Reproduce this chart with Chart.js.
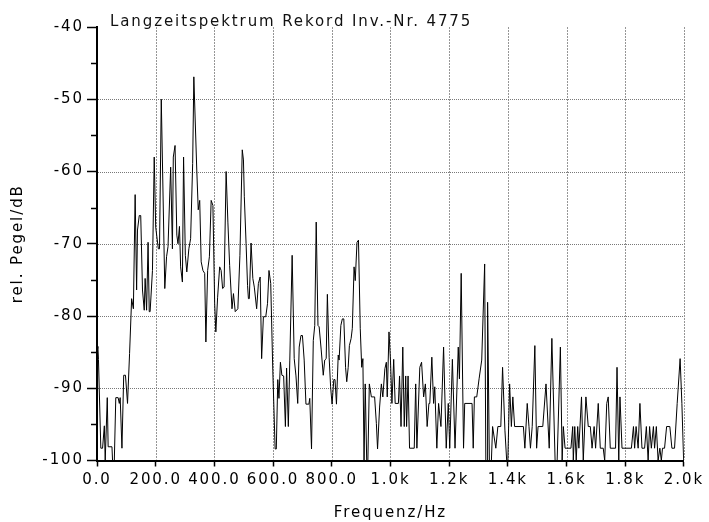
<!DOCTYPE html>
<html>
<head>
<meta charset="utf-8">
<script src="https://cdn.jsdelivr.net/npm/chart.js@4"></script>
<style>
html,body{margin:0;padding:0;background:#fff;}
#wrap{width:709px;height:522px;}
</style>
</head>
<body>
<div id="wrap"><canvas id="c" width="709" height="522"></canvas></div>
<script>
const chartTitle = 'Langzeitspektrum Rekord Inv.-Nr. 4775';
const xAxisTitle = 'Frequenz/Hz';
const yAxisTitle = 'rel. Pegel/dB';
const xTickLabels = ['0.0','200.0','400.0','600.0','800.0','1.0k','1.2k','1.4k','1.6k','1.8k','2.0k'];

const freqHz = [0,3,5,13,19,25,28,35,38,51,53,59,64,72,76,79,85,91,97,104,111,118,124,130,135,138,144,149,155,161,164,169,174,178,181,189,195,200,209,213,219,231,237,242,251,257,260,266,272,276,281,285,291,295,301,306,313,319,326,330,340,345,350,355,361,367,371,377,383,389,395,401,405,411,418,423,428,433,440,446,452,460,465,471,480,487,495,
499,502,508,513,516,519,525,531,536,544,550,556,561,567,575,581,586,592,599,607,611,616,620,625,630,636,642,646,652,657,665,672,678,684,689,695,700,706,712,722,725,731,737,742,747,753,757,764,771,776,781,785,791,796,801,807,811,816,822,825,831,836,841,847,851,856,860,866,870,876,880,886,891,897,902,906,910,914,919,923,928,935,946,952,956,963,969,974,981,986,989,995,1000,
1005,1011,1016,1027,1031,1036,1042,1047,1052,1055,1060,1065,1081,1086,1090,1100,1106,1113,1119,1125,1131,1134,1141,1147,1151,1158,1164,1172,1181,1190,1197,1202,1211,1220,1231,1235,1241,1249,1253,1278,1282,1286,1294,1302,1311,1321,1325,1329,1331,1337,1344,1348,1359,1366,1376,1382,1390,1396,1400,1406,1412,1417,1423,1453,1458,1466,1472,1477,1483,1492,1498,1503,
1519,1530,1541,1550,1561,1568,1579,1585,1589,1595,1615,1621,1623,1628,1633,1638,1642,1651,1657,1666,1674,1681,1687,1694,1699,1708,1715,1725,1730,1737,1742,1749,1767,1772,1778,1782,1789,1821,1828,1832,1837,1844,1850,1857,1866,1872,1878,1883,1889,1896,1900,1906,1912,1918,1923,1927,1934,1941,1952,1959,1968,1977,1987,1993,1999];

const levelDb = [-84.5,-84.2,-86,-98.3,-98.3,-95.2,-100,-91.3,-98.1,-98.1,-100,-100,-91.3,-91.3,-92.1,-91.3,-98.3,-88.2,-88.2,-92.1,-85.2,-77.6,-79,-63.2,-76.4,-68.1,-66.1,-66.1,-76.4,-79.2,-74.8,-79.2,-69.8,-79.4,-79.4,-73.7,-58,-67.7,-70.7,-70.7,-50,-76.2,-71.8,-70.4,-59.4,-70.7,-58,-56.4,-68.8,-70,-67.6,-73.2,-75.3,-58,-71.6,-73.9,-70.7,-69.3,-58.9,-46.9,-59.8,-65.3,-64,-72.5,-73.7,-74.1,-83.6,-73.7,-71.8,-64,-64.7,-78.3,-82.2,-77.4,-73.2,-73.7,-76.2,-76,-60,-67,-73,-79,-76.9,-79.4,-79,-71.6,-57,
-58.4,-63.5,-70,-75.8,-77.6,-77.6,-69.9,-74.8,-76,-79,-75.5,-74.6,-85.9,-80.1,-80.1,-78.3,-73.7,-75.5,-87.5,-98.4,-98.4,-88.8,-91.4,-86.4,-88.2,-88.3,-95.3,-87.2,-95.3,-86.1,-71.6,-85.9,-88.3,-92.1,-84.3,-82.7,-82.7,-86.1,-92.2,-92.2,-91.4,-98.4,-83.4,-81.3,-67,-81.3,-81.5,-84.7,-88.2,-86.1,-85.9,-77,-85.7,-89.8,-92.2,-88.8,-88.8,-92.2,-85.4,-86.1,-81.3,-80.4,-80.4,-87.1,-89.1,-87.1,-84.1,-83.1,-81.7,-73.2,-75.1,-69.8,-69.5,-81.7,-87.1,-85.9,-100,-89.4,-100,-100,-89.4,-91.2,-91.2,-94.9,-98.4,-92.6,-89.4,-91.2,-87.3,-86.4,-91.2,-82.2,-86.1,
-92.1,-86,-92.1,-92.1,-88.3,-95.3,-84.3,-95.3,-88.3,-95.3,-88.3,-98.3,-98.3,-89.4,-98.3,-87.1,-86.4,-91.2,-89.4,-95.3,-92.1,-92.1,-85.7,-92.1,-89.8,-98.3,-92.1,-95.3,-84.3,-98.3,-92.1,-98.3,-86,-98.3,-84.3,-88.7,-74.1,-98.3,-92.1,-92.1,-98.3,-91.2,-91.2,-88.7,-86.1,-72.8,-100,-100,-78.1,-100,-100,-95.3,-98.3,-95.3,-95.3,-87.1,-95.8,-100,-100,-89.4,-95.3,-91.2,-95.3,-95.3,-98.3,-92.1,-95.3,-98.3,-95.3,-84.1,-98.3,-95.3,
-95.3,-89.4,-98.3,-83.1,-100,-100,-84.3,-100,-95.3,-98.3,-98.3,-95.3,-100,-95.3,-100,-95.3,-98.3,-91.2,-100,-91.2,-95.3,-95.3,-98.3,-95.3,-98.3,-92.1,-98.3,-98.3,-100,-92.1,-91.2,-98.3,-98.3,-87.1,-100,-91.2,-98.3,-98.3,-95.3,-98.3,-95.3,-98.3,-92.1,-98.3,-98.3,-95.3,-100,-95.3,-98.3,-95.3,-98.3,-95.3,-100,-98.3,-100,-98.3,-98.3,-95.3,-95.3,-98.3,-98.3,-92.1,-85.9,-92.1,-100];

const points = freqHz.map((f, i) => ({x: f, y: levelDb[i]}));
const FONT = {family: 'DejaVu Sans', size: 15};
const SPACING = '1.9px';

const spacingPlugin = {
  id: 'spacing',
  beforeInit(chart){ chart.ctx.letterSpacing = SPACING; },
  beforeUpdate(chart){ chart.ctx.letterSpacing = SPACING; },
  beforeDraw(chart){ chart.ctx.letterSpacing = SPACING; }
};

// grid lines at the scales' own tick positions, drawn under the data line
const gridPlugin = {
  id: 'gridLines',
  beforeDatasetsDraw(chart){
    const ctx = chart.ctx;
    const xs = chart.scales.x, ys = chart.scales.y, a = chart.chartArea;
    ctx.save();
    ctx.lineWidth = 1;
    ctx.strokeStyle = 'rgb(150,150,150)';
    ctx.setLineDash([2, 1]);
    for (const t of xs.ticks) {
      if (t.value === 0) continue;
      const px = Math.round(xs.getPixelForValue(t.value)) + 0.5;
      ctx.beginPath();
      ctx.moveTo(px, a.top);
      ctx.lineTo(px, a.bottom - 1);
      ctx.stroke();
    }
    ctx.strokeStyle = 'rgb(120,120,120)';
    ctx.setLineDash([1, 1]);
    for (const t of ys.ticks) {
      if (t.value === -40 || t.value === -100) continue;
      const py = Math.round(ys.getPixelForValue(t.value)) + 0.5;
      ctx.beginPath();
      ctx.moveTo(a.left + 1, py);
      ctx.lineTo(a.right, py);
      ctx.stroke();
    }
    ctx.restore();
  }
};

const extrasPlugin = {
  id: 'extras',
  afterDraw(chart){
    const ctx = chart.ctx;
    const ys = chart.scales.y;
    const area = chart.chartArea;
    ctx.save();
    ctx.strokeStyle = '#000';
    ctx.lineWidth = 1.5;
    for (let v = -95; v <= -45; v += 10) {
      const py = Math.round(ys.getPixelForValue(v)) + 0.5;
      ctx.beginPath();
      ctx.moveTo(area.left - 6, py);
      ctx.lineTo(area.left, py);
      ctx.stroke();
    }
    ctx.letterSpacing = SPACING;
    ctx.fillStyle = '#111';
    ctx.font = '15px "DejaVu Sans"';
    ctx.textAlign = 'left';
    ctx.textBaseline = 'alphabetic';
    ctx.fillText(chartTitle, area.left + 13, 26);
    ctx.restore();
  }
};

new Chart(document.getElementById('c'), {
  type: 'line',
  data: {
    datasets: [{
      data: points,
      borderColor: '#000',
      borderWidth: 1,
      pointRadius: 0,
      tension: 0,
      fill: false
    }]
  },
  options: {
    responsive: false,
    animation: false,
    layout: {padding: {left: 0, right: 23, top: 27, bottom: 0}},
    plugins: {legend: {display: false}, tooltip: {enabled: false}, title: {display: false}},
    scales: {
      x: {
        type: 'linear',
        min: 0, max: 2000,
        afterFit(s){ s.height = 61.5; },
        afterBuildTicks(s){ s.ticks = xTickLabels.map((_, i) => ({value: i * 200})); },
        ticks: {
          color: '#000', font: FONT, padding: 5, maxRotation: 0, autoSkip: false,
          callback: (v, i) => xTickLabels[i]
        },
        grid: {
          drawOnChartArea: false,
          tickColor: '#000', tickLength: 6, tickWidth: 1.5
        },
        border: {display: true, color: '#000', width: 2},
        title: {display: true, text: xAxisTitle, color: '#000', font: FONT, padding: {top: 0, bottom: 0}}
      },
      y: {
        type: 'linear',
        min: -100, max: -40,
        afterFit(s){ s.width = 97; },
        ticks: {color: '#000', font: FONT, stepSize: 10, padding: 3},
        grid: {
          drawOnChartArea: false,
          tickColor: '#000', tickLength: 10, tickWidth: 1.5
        },
        border: {display: true, color: '#000', width: 2},
        title: {display: true, text: yAxisTitle, color: '#000', font: FONT, padding: {top: 9, bottom: 0}}
      }
    }
  },
  plugins: [spacingPlugin, gridPlugin, extrasPlugin]
});
</script>
</body>
</html>
